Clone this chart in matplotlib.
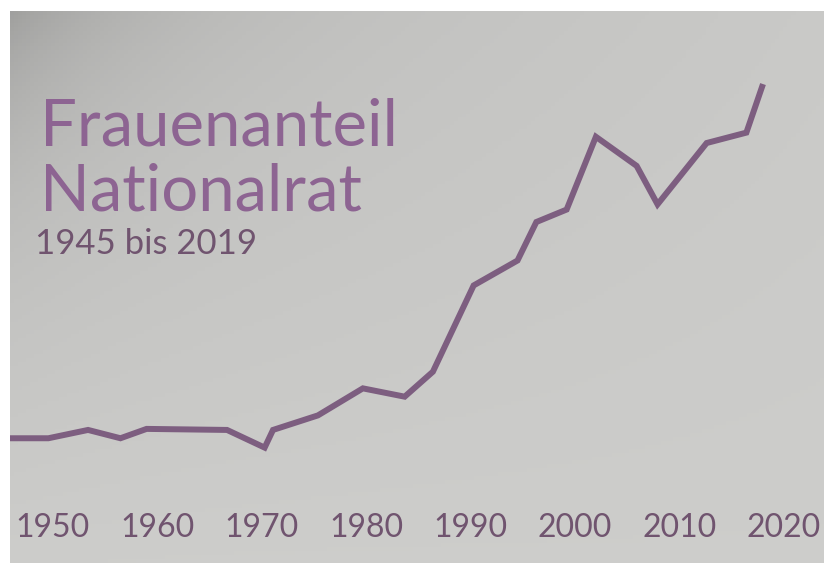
import numpy as np
import matplotlib.pyplot as plt

# Frauenanteil im Nationalrat (in %)
years = [1945, 1949.6, 1953.4, 1956.5, 1959.0, 1966.7, 1970.3, 1971.1, 1975.4,
         1979.7, 1983.7, 1986.4, 1990.3, 1994.5, 1996.3, 1999.2, 2002.0,
         2005.9, 2007.9, 2012.6, 2016.4, 2017.9]
share = [5.5, 5.5, 6.3, 5.5, 6.4, 6.3, 4.6, 6.3, 7.7,
         10.3, 9.5, 11.9, 20.2, 22.6, 26.3, 27.5, 34.5,
         31.7, 28.0, 33.9, 34.9, 39.3]
tick_years = [1950, 1960, 1970, 1980, 1990, 2000, 2010, 2020]

title = "Frauenanteil\nNationalrat"
subtitle = "1945 bis 2019"

line_col = "#7d5e80"
title_col = "#8d6492"
tick_col = "#70546f"

fig = plt.figure(figsize=(8.24, 5.63), dpi=100, facecolor="white")
ax = fig.add_axes([10 / 824, 0, 814 / 824, 552 / 563])

# grey paper background, darker toward the upper left corner
gx, gy = np.meshgrid(np.linspace(0, 1, 200), np.linspace(0, 1, 140))
shade = 0.79 - 0.12 * np.exp(-(gx * 6 + gy * 4)) - 0.04 * (1 - gy) * (1 - gx) + 0.015 * gy
bg = np.dstack([shade, shade, shade * 0.99])
ax.imshow(bg, extent=[0, 1, 0, 1], transform=ax.transAxes, aspect="auto",
          origin="upper", zorder=0)

ax.plot(years, share, color=line_col, lw=4.3, solid_joinstyle="miter", zorder=2)

ax.set_xlim(1945.93, 2023.83)
ax.set_ylim(-6.5, 46.6)
ax.set_xticks(tick_years)
ax.set_xticklabels([str(t) for t in tick_years])
ax.tick_params(axis="x", direction="in", length=0, pad=-36, labelsize=23,
               labelcolor=tick_col)
for lab in ax.get_xticklabels():
    lab.set_fontfamily("Lato")
ax.set_yticks([])
for s in ax.spines.values():
    s.set_visible(False)

ax.text(30 / 814, 1 - (98 - 11) / 552, title, transform=ax.transAxes,
        ha="left", va="top", fontsize=47, color=title_col, family="Lato",
        linespacing=1.12)
ax.text(25 / 814, 1 - (228 - 11) / 552, subtitle, transform=ax.transAxes,
        ha="left", va="top", fontsize=25, color=tick_col, family="Lato")

fig.savefig("out.png", dpi=100, facecolor="white")
